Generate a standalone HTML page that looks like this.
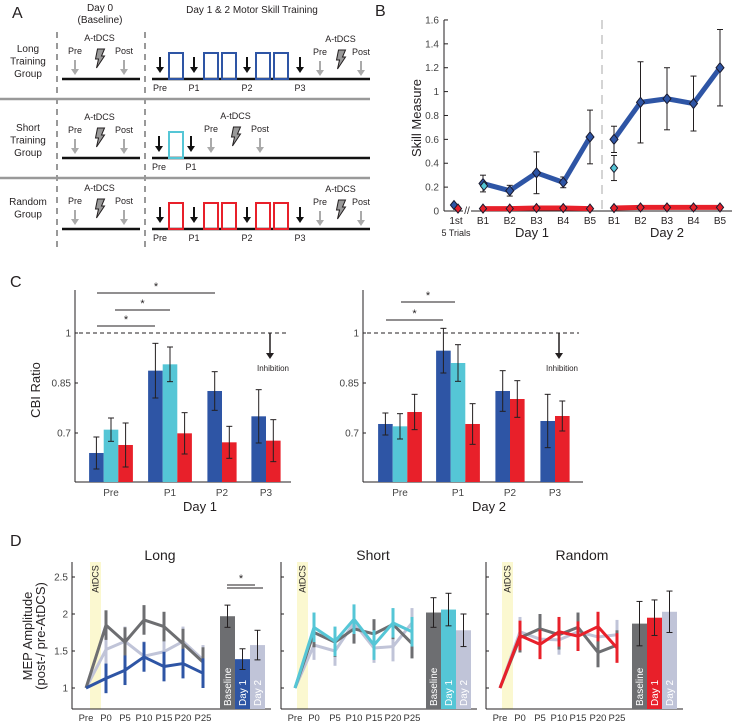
<!DOCTYPE html>
<html><head><meta charset="utf-8"><style>
html,body{margin:0;padding:0;background:#fff}
svg{display:block;font-family:"Liberation Sans",sans-serif}
</style></head><body>
<svg id="fig" width="734" height="723" viewBox="0 0 734 723" xmlns="http://www.w3.org/2000/svg">
<g id="pa"></g>
<g id="pb"></g>
<g id="pc"></g>
<g id="pd"></g>
</svg>
<script>
// ---------- Panel B data ----------
const bCats = ["B1","B2","B3","B4","B5"];
const bLongDay1 = [0.23,0.17,0.32,0.24,0.62];
const bLongDay1Err = [0.07,0.045,0.175,0.045,0.225];
const bLongDay2 = [0.60,0.91,0.94,0.90,1.20];
const bLongDay2Err = [0.11,0.34,0.26,0.23,0.32];
const bRandDay1 = [0.02,0.02,0.025,0.025,0.02];
const bRandDay2 = [0.025,0.03,0.03,0.03,0.03];
const bShortDay1 = 0.21, bShortDay2 = 0.36, bShortDay2Err = 0.105;
const bFirstLong = 0.05, bFirstRand = 0.02;
const bTicks = [0,0.2,0.4,0.6,0.8,1,1.2,1.4,1.6];
// ---------- Panel C data ----------
const cCats1 = ["Pre","P1","P2","P3"];
const cLong1 = [0.64,0.887,0.826,0.75];
const cLong1Err = [0.048,0.082,0.058,0.08];
const cShort1 = [0.71,0.906];
const cShort1Err = [0.035,0.052];
const cRand1 = [0.664,0.699,0.672,0.677];
const cRand1Err = [0.066,0.062,0.048,0.063];
const cLong2 = [0.727,0.947,0.826,0.736];
const cLong2Err = [0.033,0.067,0.061,0.08];
const cShort2 = [0.72,0.91];
const cShort2Err = [0.038,0.055];
const cRand2 = [0.763,0.727,0.802,0.751];
const cRand2Err = [0.053,0.061,0.055,0.045];
const cTicks = [0.7,0.85,1];
// ---------- Panel D data ----------
const dCats = ["Pre","P0","P5","P10","P15","P20","P25"];
const dLongBase = [1,1.85,1.62,1.92,1.83,1.60,1.35];
const dLongDay1 = [1,1.13,1.24,1.42,1.29,1.33,1.20];
const dLongDay2 = [1,1.52,1.63,1.43,1.49,1.63,1.38];
const dShortBase = [1,1.75,1.62,1.80,1.73,1.86,1.60];
const dShortDay1 = [1,1.82,1.63,1.93,1.58,1.88,1.76];
const dShortDay2 = [1,1.58,1.50,1.88,1.54,1.56,1.88];
const dRandBase = [1,1.68,1.80,1.72,1.82,1.48,1.58];
const dRandDay1 = [1,1.71,1.59,1.76,1.70,1.83,1.54];
const dRandDay2 = [1,1.76,1.66,1.65,1.76,1.69,1.72];
const dErr = 0.2;
const dBarLong = [1.97,1.39,1.58], dBarLongErr=[0.15,0.14,0.2];
const dBarShort = [2.02,2.06,1.78], dBarShortErr=[0.2,0.22,0.22];
const dBarRand = [1.87,1.95,2.03], dBarRandErr=[0.3,0.24,0.28];
const dTicks = [1,1.5,2,2.5];

const NS="http://www.w3.org/2000/svg";
const BLUE="#2e55a5",CYAN="#55c6d6",RED="#e8202a",GRAY="#6d6e71",LGRAY="#c0c4d8";
function mk(p,tag,at,txt){const e=document.createElementNS(NS,tag);for(const k in at)e.setAttribute(k,at[k]);if(txt!==undefined)e.textContent=txt;p.appendChild(e);return e;}
function T(p,x,y,s,size,anchor,name,extra){const e=mk(p,"text",Object.assign({x:x,y:y,"font-size":size,"text-anchor":anchor||"middle",fill:"#231f20"},extra||{}),s);


return e;}
function L(p,x1,y1,x2,y2,c,w,name,extra){const e=mk(p,"line",Object.assign({x1:x1,y1:y1,x2:x2,y2:y2,stroke:c,"stroke-width":w},extra||{}));


return e;}

// ================= PANEL A =================
const A=document.getElementById("pa");
T(A,12,18,"A",16,"start","panel-a-label");
T(A,100,11,"Day 0",10,"middle","day0-title");
T(A,100,23,"(Baseline)",10,"middle","baseline-title");
T(A,252,13,"Day 1 & 2 Motor Skill Training",10,"middle","training-title");
L(A,57,32,57,250,"#999",2,"divider-day0",{"stroke-dasharray":"6,5"});
L(A,145,32,145,250,"#999",2,"divider-day1",{"stroke-dasharray":"6,5"});
L(A,0,99,370,99,"#999",2.5,"row-separator-1");
L(A,0,178,370,178,"#999",2.5,"row-separator-2");
function arrow(p,x,y1,y2,c,name){L(p,x,y1,x,y2-3,c,2,name);const e=mk(p,"polygon",{points:`${x-4},${y2-5} ${x+4},${y2-5} ${x},${y2+1}`,fill:c});

}
function bolt(p,x,y,name){const e=mk(p,"polygon",{points:`${x-2},${y-9} ${x+5},${y-9} ${x+2},${y-2} ${x+5},${y-2} ${x-3},${y+10} ${x-1},${y+1} ${x-4},${y+1}`,fill:"#999",stroke:"#231f20","stroke-width":1});

}
function stim(p,xPre,xPost,yT,name){T(p,(xPre+xPost)/2,yT-13,"A-tDCS",9,"middle",name+"-atdcs-label");T(p,xPre,yT,"Pre",9,"middle",name+"-pre-label");T(p,xPost,yT,"Post",9,"middle",name+"-post-label");
arrow(p,xPre,yT+6,yT+20,"#aaa",name+"-pre-arrow");arrow(p,xPost,yT+6,yT+20,"#aaa",name+"-post-arrow");bolt(p,(xPre+xPost)/2,yT+4,name+"-bolt");}
const rows=[{lab:["Long","Training","Group"],y:79,c:BLUE,full:true},{lab:["Short","Training","Group"],y:158,c:CYAN,full:false},{lab:["Random","Group"],y:229,c:RED,full:true}];
rows.forEach((r,i)=>{
  const n=["long","short","random"][i];
  const ly0=r.lab.length===3?r.y-27:r.y-24;
  r.lab.forEach((s,j)=>T(A,28,ly0+j*12.5,s,10,"middle",n+"-group-label"));
  L(A,62,r.y,140,r.y,"#111",2.5,n+"-baseline-line");
  stim(A,75,124,r.y-25,n+"-baseline");
  L(A,152,r.y,370,r.y,"#111",2.5,n+"-training-line");
  const top=r.y-26;
  if(r.full){
    [[160,"Pre"],[194,"P1"],[247,"P2"],[300,"P3"]].forEach(a=>{arrow(A,a[0],r.y-22,r.y-7,"#111",n+"-probe-arrow");T(A,a[0],r.y+12,a[1],9,"middle",n+"-probe-label");});
    [169,204,222,256,274].forEach(x=>{const e=mk(A,"rect",{x:x,y:top,width:14,height:26,fill:"none",stroke:r.c,"stroke-width":2});
    
    });
    stim(A,320,361,r.y-24,n+"-day");
  } else {
    [[159,"Pre"],[191,"P1"]].forEach(a=>{arrow(A,a[0],r.y-22,r.y-7,"#111",n+"-probe-arrow");T(A,a[0],r.y+12,a[1],9,"middle",n+"-probe-label");});
    const e=mk(A,"rect",{x:169,y:top,width:14,height:26,fill:"none",stroke:r.c,"stroke-width":2});
    
    
    stim(A,211,260,r.y-26,n+"-day");
  }
});

// ================= PANEL B =================
const B=document.getElementById("pb");
const bY=v=>211-v*119.4;
const bX1=i=>483+i*26.75, bX2=i=>614+i*26.5;
T(B,375,16,"B",16,"start","panel-b-label");
L(B,444,20,444,211,"#231f20",1,"b-y-axis");
L(B,444,211,463,211,"#231f20",1,"b-x-axis-first");
L(B,471,211,732,211,"#231f20",1,"b-x-axis");
T(B,467,214,"//",10,"middle","axis-break");
bTicks.forEach(v=>{L(B,444,bY(v),448,bY(v),"#231f20",1,"b-y-tick");T(B,439,bY(v)+3.5,String(v),10,"end","b-y-tick-label",{fill:"#444"});});
const yt=T(B,0,0,"Skill Measure",13,"middle","b-y-axis-title");yt.setAttribute("transform","translate(421,118) rotate(-90)");
L(B,602,20,602,211,"#aaa",1,"day-divider",{"stroke-dasharray":"9,6"});
T(B,456,224,"1st",10,"middle","b-x-label-first");T(B,456,236,"5 Trials",9,"middle","b-x-label-trials");
bCats.forEach((c,i)=>{T(B,bX1(i),224,c,10,"middle","b-x-label-day1");T(B,bX2(i),224,c,10,"middle","b-x-label-day2");});
T(B,532,237,"Day 1",13,"middle","b-day1-label");T(B,667,237,"Day 2",13,"middle","b-day2-label");
function poly(p,xs,ys,c,w,name){const e=mk(p,"polyline",{points:xs.map((x,i)=>x+","+ys[i]).join(" "),fill:"none",stroke:c,"stroke-width":w,"stroke-linejoin":"round"});

}
function diamond(p,x,y,c,r,name){const e=mk(p,"polygon",{points:`${x},${y-r} ${x+r*0.8},${y} ${x},${y+r} ${x-r*0.8},${y}`,fill:c,stroke:"#1a1a2e","stroke-width":1});

}
function eb(p,x,v,e,sy,name){L(p,x,sy(v+e),x,sy(v-e),"#231f20",1,name);L(p,x-3,sy(v+e),x+3,sy(v+e),"#231f20",1,name+"-cap");L(p,x-3,sy(v-e),x+3,sy(v-e),"#231f20",1,name+"-cap");}
poly(B,bRandDay1.map((v,i)=>bX1(i)),bRandDay1.map(bY),RED,5,"random-line-day1");
poly(B,bRandDay2.map((v,i)=>bX2(i)),bRandDay2.map(bY),RED,5,"random-line-day2");
bLongDay1.forEach((v,i)=>eb(B,bX1(i),v,bLongDay1Err[i],bY,"long-errbar-day1"));
bLongDay2.forEach((v,i)=>eb(B,bX2(i),v,bLongDay2Err[i],bY,"long-errbar-day2"));
eb(B,bX2(0),bShortDay2,bShortDay2Err,bY,"short-errbar-day2");
poly(B,bLongDay1.map((v,i)=>bX1(i)),bLongDay1.map(bY),BLUE,5,"long-line-day1");
poly(B,bLongDay2.map((v,i)=>bX2(i)),bLongDay2.map(bY),BLUE,5,"long-line-day2");
bLongDay1.forEach((v,i)=>diamond(B,bX1(i),bY(v),BLUE,5,"long-marker"));
bLongDay2.forEach((v,i)=>diamond(B,bX2(i),bY(v),BLUE,5,"long-marker"));
bRandDay1.forEach((v,i)=>diamond(B,bX1(i),bY(v),RED,4.5,"random-marker"));
bRandDay2.forEach((v,i)=>diamond(B,bX2(i),bY(v),RED,4.5,"random-marker"));
diamond(B,bX1(0)+1,bY(bShortDay1),CYAN,4.5,"short-marker-day1");
diamond(B,bX2(0),bY(bShortDay2),CYAN,4.5,"short-marker-day2");
diamond(B,454,bY(bFirstLong),BLUE,4.5,"first-long-marker");diamond(B,458,bY(bFirstRand),RED,4.5,"first-random-marker");

// ================= PANEL C =================
const C=document.getElementById("pc");
const cY=v=>333+(1-v)*333.3;
T(C,10,287,"C",16,"start","panel-c-label");
const ct=T(C,0,0,"CBI Ratio",13,"middle","c-y-axis-title");ct.setAttribute("transform","translate(40,390) rotate(-90)");
function cPanel(ax,axEnd,centers,lg,lgE,sh,shE,rd,rdE,day,dayX,arrX,sig,name){
  L(C,ax,290,ax,482,"#231f20",1,name+"-y-axis");L(C,ax,482,axEnd,482,"#231f20",1,name+"-x-axis");
  cTicks.forEach(v=>{L(C,ax,cY(v),ax+3,cY(v),"#231f20",1,name+"-y-tick");T(C,ax-4,cY(v)+3.5,String(v),10,"end",name+"-y-tick-label",{fill:"#444"});});
  L(C,ax+4,333,axEnd-4,333,"#231f20",1,name+"-reference-line",{"stroke-dasharray":"4,3"});
  const bw=14.6;
  centers.forEach((cx,i)=>{
    const group=i<2?[[lg,lgE,BLUE,"long"],[sh,shE,CYAN,"short"],[rd,rdE,RED,"random"]]:[[lg,lgE,BLUE,"long"],[rd,rdE,RED,"random"]];
    const x0=cx-group.length*bw/2;
    group.forEach((g,k)=>{const v=g[0][i];const r=mk(C,"rect",{x:x0+k*bw,y:cY(v),width:bw,height:482-cY(v),fill:g[2]});
      
      
      eb(C,x0+k*bw+bw/2,v,g[1][i],cY,name+"-errbar-"+g[3]);});
    T(C,cx,496,cCats1[i],10,"middle",name+"-x-label",{fill:"#444"});
  });
  T(C,dayX,511,day,13,"middle",name+"-day-label");
  L(C,arrX,333,arrX,355,"#231f20",1.5,name+"-inhibition-arrow");
  const h=mk(C,"polygon",{points:`${arrX-4},${353} ${arrX+4},${353} ${arrX},${359}`,fill:"#231f20"});
  
  
  T(C,arrX+3,371,"Inhibition",8,"middle",name+"-inhibition-label");
  sig.forEach(s=>{L(C,s[0],s[2],s[1],s[2],"#231f20",1,name+"-sig-bar");T(C,(s[0]+s[1])/2,s[2]-3,"*",11,"middle",name+"-sig-star");});
}
cPanel(75,291,[111,170,222,266],cLong1,cLong1Err,cShort1,cShort1Err,cRand1,cRand1Err,"Day 1",200,270,[[97,215,293],[115,170,310],[97,155,326]],"day1");
cPanel(363,583,[400,458,510,555],cLong2,cLong2Err,cShort2,cShort2Err,cRand2,cRand2Err,"Day 2",489,559,[[401,455,302],[386,443,320]],"day2");

// ================= PANEL D =================
const D=document.getElementById("pd");
const dY=v=>688-(v-1)*74;
T(D,10,546,"D",16,"start","panel-d-label");
const dt1=T(D,0,0,"MEP Amplitude",13,"middle","d-y-axis-title");dt1.setAttribute("transform","translate(32,636) rotate(-90)");
const dt2=T(D,0,0,"(post-/ pre-AtDCS)",13,"middle","d-y-axis-subtitle");dt2.setAttribute("transform","translate(45,636) rotate(-90)");
function dPanel(ax,xs,band,lines,bars,barErr,barX,barColors,title,titleX,labels,name){
  const end=barX+46;
  const b=mk(D,"rect",{x:band,y:562,width:11,height:147,fill:"#fbf8d0"});
  
  
  const bt=T(D,0,0,"AtDCS",9,"middle",name+"-atdcs-label");bt.setAttribute("transform",`translate(${band+8.5},579) rotate(-90)`);
  L(D,ax,562,ax,709,"#231f20",1,name+"-y-axis");L(D,ax,709,end+5,709,"#231f20",1,name+"-x-axis");
  dTicks.forEach(v=>{L(D,ax,dY(v),ax+3,dY(v),"#231f20",1,name+"-y-tick");if(labels)T(D,ax-4,dY(v)+3.5,String(v),10,"end",name+"-y-tick-label",{fill:"#444"});});
  dCats.forEach((c,i)=>T(D,xs(i),721,c,9.5,"middle",name+"-x-label",{fill:"#333"}));
  T(D,titleX,560,title,14,"middle",name+"-title");
  lines.forEach(ln=>{
    ln[0].forEach((v,i)=>{if(i>0)L(D,xs(i),dY(v+dErr),xs(i),dY(v-dErr),ln[1],3,name+"-errbar-"+ln[2]);});
    poly(D,ln[0].map((v,i)=>xs(i)),ln[0].map(dY),ln[1],3,name+"-line-"+ln[2]);
  });
  const bl=["Baseline","Day 1","Day 2"];
  bars.forEach((v,k)=>{const x=barX+k*15;const r=mk(D,"rect",{x:x,y:dY(v),width:15,height:709-dY(v),fill:barColors[k]});
    
    
    eb(D,x+7.5,v,barErr[k],dY,name+"-bar-errbar");
    const t=T(D,0,0,bl[k],10,"start",name+"-bar-label",{fill:"#fff"});t.setAttribute("transform",`translate(${x+11},706) rotate(-90)`);});
}
const lx=i=>[86,106,125,144,164,183,203][i];
dPanel(72,lx,90,[[dLongDay2,LGRAY,"day2"],[dLongBase,GRAY,"baseline"],[dLongDay1,BLUE,"day1"]],dBarLong,dBarLongErr,220,[GRAY,BLUE,LGRAY],"Long",160,true,"long");
const sx=i=>[295,314,335,354,374,393,412][i];
dPanel(281,sx,297,[[dShortDay2,LGRAY,"day2"],[dShortBase,GRAY,"baseline"],[dShortDay1,CYAN,"day1"]],dBarShort,dBarShortErr,426,[GRAY,CYAN,LGRAY],"Short",373,false,"short");
const rx=i=>[500,520,540,559,578,598,617][i];
dPanel(486,rx,502,[[dRandDay2,LGRAY,"day2"],[dRandBase,GRAY,"baseline"],[dRandDay1,RED,"day1"]],dBarRand,dBarRandErr,632,[GRAY,RED,LGRAY],"Random",582,false,"random");
L(D,227,585,255,585,"#231f20",1,"long-sig-bar-1");L(D,227,588,263,588,"#231f20",1,"long-sig-bar-2");
T(D,241,582,"*",11,"middle","long-sig-star");
</script>
</body></html>
